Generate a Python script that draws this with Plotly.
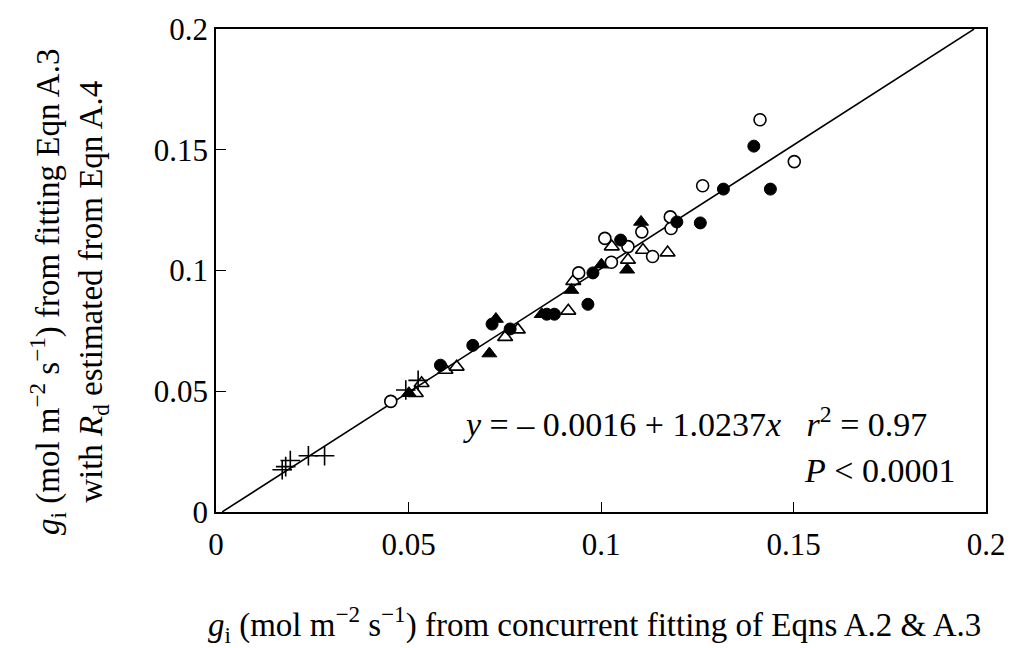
import plotly.graph_objects as go

# ---- data ----
cross_x = [0.0172, 0.0181, 0.0193, 0.0240, 0.0282, 0.0493, 0.0525]
cross_y = [0.0175, 0.0188, 0.0213, 0.0233, 0.0233, 0.0505, 0.0545]

open_circle_x = [0.0454, 0.0942, 0.1010, 0.1027, 0.1070, 0.1106, 0.1134, 0.1180, 0.1182, 0.1264, 0.1413, 0.1502]
open_circle_y = [0.0458, 0.0990, 0.1133, 0.1034, 0.1099, 0.1160, 0.1058, 0.1222, 0.1174, 0.1351, 0.1624, 0.1451]

filled_circle_x = [0.0583, 0.0667, 0.0717, 0.0764, 0.0859, 0.0879, 0.0966, 0.0979, 0.1051, 0.1197, 0.1258, 0.1318, 0.1397, 0.1440]
filled_circle_y = [0.0608, 0.0690, 0.0778, 0.0758, 0.0819, 0.0819, 0.0860, 0.0990, 0.1126, 0.1201, 0.1197, 0.1337, 0.1515, 0.1337]

open_tri_x = [0.0519, 0.0534, 0.0596, 0.0625, 0.0751, 0.0784, 0.0915, 0.0928, 0.1028, 0.1070, 0.1109, 0.1173]
open_tri_y = [0.0492, 0.0533, 0.0588, 0.0601, 0.0724, 0.0755, 0.0833, 0.0956, 0.1099, 0.1044, 0.1085, 0.1074]

filled_tri_x = [0.0501, 0.0710, 0.0727, 0.0846, 0.0923, 0.1001, 0.1068, 0.1104]
filled_tri_y = [0.0492, 0.0656, 0.0799, 0.0819, 0.0919, 0.1024, 0.1003, 0.1201]

intercept = -0.0016
slope = 1.0237
line_x = [0.0016, 0.1969]
line_y = [intercept + slope * v for v in line_x]

tick_vals = [0, 0.05, 0.1, 0.15, 0.2]
tick_text = ["0", "0.05", "0.1", "0.15", "0.2"]

FONT = "Liberation Serif"

fig = go.Figure()
fig.add_trace(go.Scatter(x=line_x, y=line_y, mode="lines",
                         line=dict(color="black", width=1.6), hoverinfo="skip"))
fig.add_trace(go.Scatter(x=cross_x, y=cross_y, mode="markers",
                         marker=dict(symbol="cross-thin", size=14, color="black",
                                     line=dict(color="black", width=1.6))))
fig.add_trace(go.Scatter(x=open_tri_x, y=open_tri_y, mode="markers",
                         marker=dict(symbol="triangle-up-open", size=13, color="black",
                                     line=dict(color="black", width=1.6))))
fig.add_trace(go.Scatter(x=filled_tri_x, y=filled_tri_y, mode="markers",
                         marker=dict(symbol="triangle-up", size=13, color="black",
                                     line=dict(color="black", width=1))))
fig.add_trace(go.Scatter(x=open_circle_x, y=open_circle_y, mode="markers",
                         marker=dict(symbol="circle", size=12, color="white",
                                     line=dict(color="black", width=1.6))))
fig.add_trace(go.Scatter(x=filled_circle_x, y=filled_circle_y, mode="markers",
                         marker=dict(symbol="circle", size=12, color="black",
                                     line=dict(color="black", width=1))))

axis_common = dict(range=[0, 0.2], tickvals=tick_vals, ticktext=tick_text,
                   ticks="inside", ticklen=10, tickwidth=1.3, tickcolor="black",
                   showline=True, linecolor="black", linewidth=1.6, mirror=True,
                   showgrid=False, zeroline=False,
                   tickfont=dict(family=FONT, size=31, color="black"))

fig.update_layout(
    width=1017, height=648,
    margin=dict(l=216, r=27, t=23, b=136),
    paper_bgcolor="white", plot_bgcolor="white",
    showlegend=False,
    xaxis=dict(axis_common, ticklabelstandoff=4),
    yaxis=axis_common,
    font=dict(family=FONT, color="black"),
)

fig.add_annotation(
    text="<i>g</i><sub>i</sub> (mol m<sup>\u22122</sup> s<sup>\u22121</sup>) from concurrent fitting of Eqns A.2 &amp; A.3",
    xref="paper", yref="paper", x=0.492, y=-0.232, xanchor="center", yanchor="middle",
    showarrow=False, font=dict(family=FONT, size=33, color="black"))

fig.add_annotation(
    text="<i>g</i><sub>i</sub> (mol m<sup>\u22122</sup> s<sup>\u22121</sup>) from fitting Eqn A.3<br>with <i>R</i><sub>d</sub> estimated from Eqn A.4",
    xref="paper", yref="paper", x=-0.19, y=0.455, xanchor="center", yanchor="middle",
    textangle=-90, showarrow=False, font=dict(family=FONT, size=33, color="black"))

fig.add_annotation(
    text="<i>y</i> = \u2013 0.0016 + 1.0237<i>x</i>\u00a0\u00a0\u00a0<i>r</i><sup>2</sup> = 0.97",
    x=0.1852, y=0.0372, xref="x", yref="y", xanchor="right", yanchor="middle",
    showarrow=False, font=dict(family=FONT, size=34, color="black"))

fig.add_annotation(
    text="<i>P</i> &lt; 0.0001",
    x=0.1925, y=0.0172, xref="x", yref="y", xanchor="right", yanchor="middle",
    showarrow=False, font=dict(family=FONT, size=34, color="black"))

fig.write_html("out.html")
